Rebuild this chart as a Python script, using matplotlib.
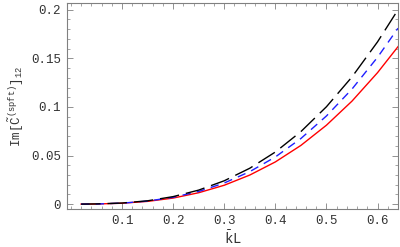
import matplotlib
matplotlib.use("Agg")
import matplotlib.pyplot as plt
from matplotlib.ticker import MultipleLocator, FixedLocator

# values
kl = [0.02, 0.05, 0.10, 0.15, 0.20, 0.25, 0.30, 0.35, 0.40, 0.45, 0.50, 0.55, 0.60, 0.64]
im_black = [0.0000, 0.0002, 0.0011, 0.0034, 0.0077, 0.0144, 0.0240, 0.0369,
            0.0536, 0.0746, 0.1002, 0.1309, 0.1670, 0.2000]
im_blue = [0.0000, 0.0001, 0.0010, 0.0031, 0.0070, 0.0130, 0.0217, 0.0334,
           0.0485, 0.0675, 0.0907, 0.1184, 0.1511, 0.1810]
im_red = [0.0000, 0.0001, 0.0009, 0.0028, 0.0062, 0.0117, 0.0194, 0.0299,
          0.0434, 0.0604, 0.0812, 0.1060, 0.1353, 0.1620]

x_ticks = [0.1, 0.2, 0.3, 0.4, 0.5, 0.6]
x_labels = ["0.1", "0.2", "0.3", "0.4", "0.5", "0.6"]
y_ticks = [0, 0.05, 0.1, 0.15, 0.2]
y_labels = ["0", "0.05", "0.1", "0.15", "0.2"]

plt.rcParams["font.family"] = "Liberation Mono"
plt.rcParams["mathtext.fontset"] = "custom"
plt.rcParams["mathtext.tt"] = "Liberation Mono"
plt.rcParams["mathtext.rm"] = "Liberation Mono"

fig = plt.figure(figsize=(4, 2.47), dpi=100)
ax = fig.add_axes([0.167, 0.154, 0.828, 0.834])

ax.plot(kl, im_red, color="#ff0000", lw=1.0)
ax.plot(kl, im_blue, color="#1f1fff", lw=1.0, dashes=(6, 4.5))
ax.plot(kl, im_black, color="black", lw=1.0, dashes=(14, 5))

ax.set_xlim(-0.008, 0.64)
ax.set_ylim(-0.005, 0.207)

ax.xaxis.set_major_locator(FixedLocator(x_ticks))
ax.set_xticklabels(x_labels)
ax.yaxis.set_major_locator(FixedLocator(y_ticks))
ax.set_yticklabels(y_labels)
ax.xaxis.set_minor_locator(MultipleLocator(0.02))
ax.yaxis.set_minor_locator(MultipleLocator(0.01))

ax.tick_params(which="both", direction="in", top=True, right=True,
               color="#808080", labelsize=9, labelcolor="#333333", pad=4)
ax.tick_params(which="major", length=4, width=0.6)
ax.tick_params(which="minor", length=2, width=0.5)
ax.tick_params(axis="x", labeltop=False)
ax.tick_params(axis="y", labelright=False)
for spine in ax.spines.values():
    spine.set_color("#808080")
    spine.set_linewidth(0.8)

ax.set_xlabel(r"$\bar{\mathtt{k}}\mathtt{L}$", fontsize=10, color="#333333", labelpad=2)
ax.set_ylabel(r"$\mathtt{Im}[\tilde{\mathtt{C}}^{(\mathtt{spft})}]_{\mathtt{12}}$",
              fontsize=9, color="#333333", labelpad=4)

fig.savefig("out.png", dpi=100)
